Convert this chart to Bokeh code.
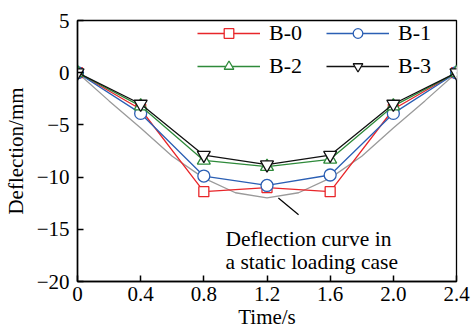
from bokeh.plotting import figure
from bokeh.models import Legend, LegendItem, Label, FixedTicker, Range1d, Segment, ColumnDataSource
from bokeh.embed import file_html
from bokeh.resources import INLINE

# Measured deflection of the beams over one loading pass
time_s = [0.0, 0.4, 0.8, 1.2, 1.6, 2.0, 2.4]
b0 = [0.0, -3.5, -11.4, -11.0, -11.4, -3.5, 0.0]
b1 = [0.0, -3.9, -9.9, -10.8, -9.8, -3.9, 0.0]
b2 = [0.0, -3.2, -8.4, -9.0, -8.3, -3.2, 0.0]
b3 = [0.0, -3.0, -7.9, -8.8, -7.9, -3.0, 0.0]

# Deflection under static loading
static_t = [0.0, 0.2, 0.4, 0.6, 0.8, 1.0, 1.2, 1.4, 1.6, 1.8, 2.0, 2.2, 2.4]
static_d = [0.0, -2.7, -5.3, -8.0, -10.1, -11.5, -12.0, -11.5, -10.1, -8.0, -5.3, -2.7, 0.0]

x_ticks = [0.0, 0.4, 0.8, 1.2, 1.6, 2.0, 2.4]
x_tick_labels = ["0", "0.4", "0.8", "1.2", "1.6", "2.0", "2.4"]
y_ticks = [5, 0, -5, -10, -15, -20]
y_tick_labels = ["5", "0", "\u22125", "\u221210", "\u221215", "\u221220"]

FONT = "Liberation Serif"
FS = "21px"

p = figure(width=472, height=331, output_backend="svg", toolbar_location=None,
           x_range=Range1d(0, 2.4), y_range=Range1d(-20, 5))
p.min_border_left = 77
p.min_border_right = 16
p.min_border_top = 20
p.min_border_bottom = 49
p.xgrid.visible = False
p.ygrid.visible = False
p.outline_line_color = "black"
p.outline_line_width = 1.3
p.background_fill_color = "white"
p.border_fill_color = "white"

for ax in (p.xaxis[0], p.yaxis[0]):
    ax.axis_line_width = 1.5
    ax.major_tick_in = 6
    ax.major_tick_out = 0
    ax.minor_tick_line_color = None
    ax.major_tick_line_width = 1.5
    ax.major_label_text_font = FONT
    ax.major_label_text_font_size = FS
    ax.major_label_text_color = "black"
    ax.axis_label_text_font = FONT
    ax.axis_label_text_font_size = FS
    ax.axis_label_text_font_style = "normal"
    ax.axis_label_text_color = "black"

p.xaxis.ticker = FixedTicker(ticks=x_ticks)
p.xaxis.major_label_overrides = {t: s for t, s in zip(x_ticks, x_tick_labels)}
p.yaxis.ticker = FixedTicker(ticks=y_ticks)
p.yaxis.major_label_overrides = {t: s for t, s in zip(y_ticks, y_tick_labels)}
p.xaxis.major_label_standoff = 5
p.yaxis.major_label_standoff = 8
p.xaxis.axis_label = "Time/s"
p.xaxis.axis_label_standoff = 1
p.yaxis.axis_label = "Deflection/mm"
p.yaxis.axis_label_standoff = 6

p.line(static_t, static_d, line_color="#9a9a9a", line_width=1.3)

series = [
    ("B-0", b0, "#e8262a", "square", 10),
    ("B-1", b1, "#2b5fb4", "circle", 12),
    ("B-2", b2, "#2e8a3a", "triangle", 13),
    ("B-3", b3, "#111111", "inverted_triangle", 13),
]
items = {}
for name, vals, color, marker, size in series:
    ln = p.line(time_s, vals, line_color=color, line_width=1.3)
    sc = p.scatter(time_s, vals, marker=marker, size=size, line_color=color,
                   fill_color="white", line_width=1.3)
    items[name] = LegendItem(label=name, renderers=[ln, sc])

# Legend fills column by column; order gives rows B-0/B-1 and B-2/B-3
legend = Legend(items=[items["B-0"], items["B-2"], items["B-1"], items["B-3"]],
                ncols=2, location=(120, 202),
                glyph_width=63, glyph_height=24, label_standoff=9, label_width=50,
                spacing=7, padding=0, margin=0,
                label_text_font=FONT, label_text_font_size="22px",
                label_text_color="black",
                border_line_color=None, background_fill_alpha=0)
p.add_layout(legend, "center")

# Annotation for the static curve
p.add_glyph(ColumnDataSource(dict(x0=[1.272], y0=[-12.0], x1=[1.40], y1=[-13.6])),
            Segment(x0="x0", y0="y0", x1="x1", y1="y1", line_color="black", line_width=1.2))
p.add_layout(Label(x=0.937, y=-15.95, text="Deflection curve in", text_font=FONT,
                   text_font_size="21.5px", text_color="black",
                   text_baseline="alphabetic", text_align="left"))
p.add_layout(Label(x=0.937, y=-18.15, text="a static loading case", text_font=FONT,
                   text_font_size="21.5px", text_color="black",
                   text_baseline="alphabetic", text_align="left"))

open("out.html", "w").write(file_html(p, INLINE))
